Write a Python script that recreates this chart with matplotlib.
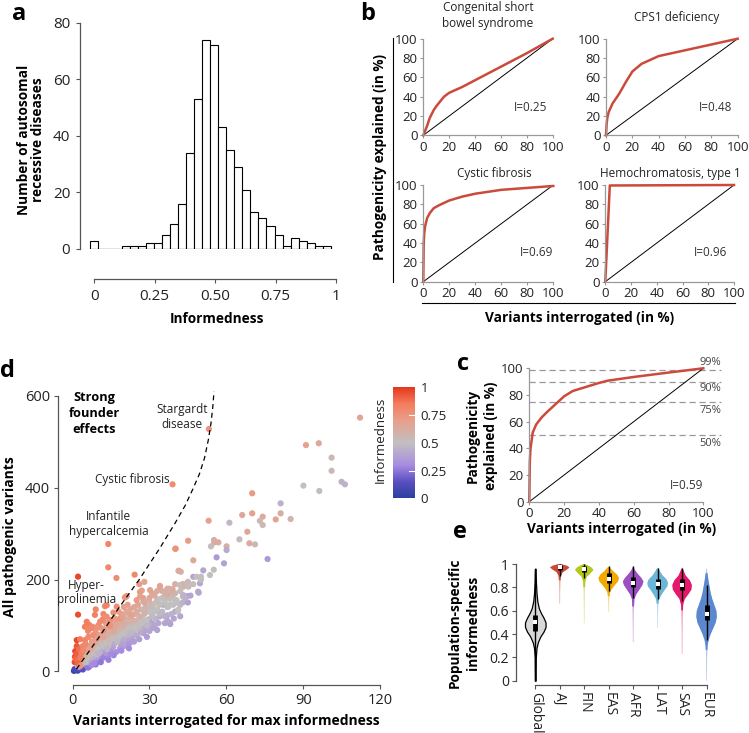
import matplotlib.pyplot as plt
import numpy as np
from matplotlib.colors import LinearSegmentedColormap
from matplotlib.lines import Line2D
import matplotlib as mpl

plt.rcParams['font.family'] = ['Open Sans', 'DejaVu Sans']
plt.rcParams['axes.linewidth'] = 0.9

W, H = 749, 733

# ---- panel a: histogram of informedness
hist_counts = [3, 0, 0, 0, 1, 1, 1, 2, 2, 5, 9, 16, 34, 53, 74,
               72, 43, 35, 29, 21, 13, 11, 8, 5, 1, 4, 3, 2, 1, 1]
hist_edges = np.linspace(-0.018, 0.978, 31)

# ---- panel b: cumulative curves for four diseases
sbs_x = [0, 3, 5, 8, 10, 13, 16, 20, 30, 40, 60, 80, 100]
sbs_y = [0, 10, 18, 26, 30, 35, 40, 44, 50, 57, 71, 85, 100]
cps1_x = [0, 0.5, 1, 2, 5, 10, 15, 20, 27, 40, 60, 80, 100]
cps1_y = [0, 12, 18, 24, 33, 43, 55, 66, 74, 82, 88, 94, 100]
cf_x = [0, 0.3, 0.7, 1.5, 3, 5, 8, 12, 20, 30, 40, 60, 80, 100]
cf_y = [0, 38, 50, 58, 66, 71, 76, 79, 84, 88, 91, 95, 97, 99]
hemo_x = [0, 3.5, 100]
hemo_y = [0, 99.5, 100]
b_titles = ["Congenital short\nbowel syndrome", "CPS1 deficiency",
            "Cystic fibrosis", "Hemochromatosis, type 1"]
b_inform = ["I=0.25", "I=0.48", "I=0.69", "I=0.96"]

# ---- panel c: average curve
avg_x = [0, 0.3, 0.7, 2, 4, 7, 10, 15, 20, 25, 30, 40, 45, 60, 80, 100]
avg_y = [0, 30, 40, 52, 58, 63, 67, 73, 79, 83, 85, 89, 90.7, 93.5, 96.8, 100]
cut_levels = [99, 90, 75, 50]
cut_labels = ["99%", "90%", "75%", "50%"]

# ---- panel d: diseases (variants for max informedness, all variants, informedness)
founder_pts = [(13.9, 277.5, 0.82), (13.9, 226.6, 0.8), (17.1, 203.4, 0.78),
               (24.2, 210.6, 0.8), (2.1, 206.3, 0.97), (2.1, 123.5, 0.95),
               (20.8, 162.7, 0.75), (9, 135, 0.82), (40.2, 267.3, 0.75),
               (39, 407.5, 0.78), (53.2, 528, 0.76)]
upper_pts = [(40.1, 267, 0.75), (45.1, 284.6, 0.72), (47.1, 241.9, 0.65),
             (41.4, 219, 0.63), (45, 150, 0.38), (43, 163, 0.5), (49.2, 171.4, 0.4),
             (49, 173.5, 0.4), (47.1, 206, 0.4), (49.7, 191.8, 0.4), (50.1, 206, 0.5),
             (50.1, 200, 0.5), (51, 220, 0.4), (53.6, 209.8, 0.5), (48.4, 206, 0.5),
             (55.1, 221.4, 0.5), (56.2, 248.4, 0.35), (59.1, 235.3, 0.38),
             (54, 272.4, 0.5), (55.3, 281, 0.63), (56.9, 281, 0.62), (55.2, 286, 0.62),
             (60.1, 272.4, 0.6), (60.1, 264.3, 0.42), (53.1, 328.2, 0.7),
             (61.2, 323.8, 0.47), (66.2, 340.6, 0.65), (70.1, 344.3, 0.7),
             (70.1, 388, 0.72), (68.2, 304.2, 0.65), (65.1, 287.6, 0.52),
             (69, 279, 0.63), (71.2, 276.7, 0.55), (74.2, 337, 0.63), (73.1, 328, 0.55),
             (74.2, 318.8, 0.55), (79.3, 331, 0.68), (81.2, 344.3, 0.63),
             (81.2, 366, 0.45), (85.1, 331.9, 0.57), (76.1, 244.7, 0.35),
             (90.1, 404.6, 0.5), (96.3, 393, 0.52), (91.1, 493, 0.7), (96.1, 497, 0.65),
             (101.1, 465.6, 0.55), (101.1, 437, 0.55), (105, 413, 0.45),
             (106.3, 407.5, 0.45), (112.2, 552.8, 0.67), (45.2, 184.5, 0.55),
             (43.2, 184.5, 0.55), (47.1, 190, 0.52), (44.7, 164, 0.4), (46, 165, 0.4),
             (42.2, 217, 0.62), (43, 190, 0.62), (44.2, 190, 0.6), (45, 195, 0.55),
             (41.9, 188, 0.52), (44.8, 188, 0.52), (43.2, 166, 0.45), (44, 160, 0.45)]
red_pts = [(0.8, 20, 0.95), (0.9, 32, 0.95), (1.0, 44, 0.97), (1.2, 28, 0.9),
           (1.5, 38, 0.92), (1.6, 55, 0.93), (1.6, 68, 0.96), (2.0, 22, 0.88),
           (2.2, 17, 0.9), (2.5, 48, 0.88), (2.9, 70, 0.85), (3.0, 30, 0.85),
           (3.5, 40, 0.83), (4.0, 55, 0.82), (4.1, 46, 0.8), (4.8, 68, 0.82),
           (4.8, 97, 0.83), (5.5, 108, 0.84), (6.1, 75, 0.8), (6.5, 101, 0.83),
           (7.4, 94, 0.8), (7.8, 97, 0.8), (8.0, 79, 0.78), (8.7, 123, 0.83),
           (10.7, 108, 0.8), (11.7, 113, 0.8), (12, 90, 0.75), (12.6, 142, 0.8),
           (13.3, 144, 0.82), (13.3, 119, 0.78), (14.6, 99, 0.76), (14.6, 112, 0.76),
           (15.9, 128, 0.75), (16.5, 115, 0.72), (18.5, 115, 0.73), (17.2, 141, 0.78),
           (19.8, 119, 0.68), (20.4, 161, 0.76), (21.1, 164, 0.75), (23, 123, 0.68),
           (25, 155, 0.72), (26.3, 173, 0.73), (26.3, 163, 0.7), (27, 176, 0.7),
           (26, 190, 0.72), (28, 195, 0.68), (30.2, 177, 0.68), (34.1, 186, 0.67),
           (10, 75, 0.72), (5, 60, 0.8), (3, 12, 0.75), (6, 88, 0.8), (9.5, 95, 0.76)]
blue_pts = [(0.5, 1, 0.05), (1.0, 3, 0.08), (1.3, 2.8, 0.05), (1.5, 5, 0.1),
            (2.0, 1.5, 0.06), (2.5, 4, 0.1), (2.9, 6.5, 0.15), (1.8, 7, 0.12),
            (0.8, 5, 0.1), (3.5, 8, 0.2), (4.8, 10, 0.22), (4, 4, 0.15)]
purple_pts = [(5.5, 13, 0.3), (6.5, 10, 0.35), (7.4, 28, 0.3), (8, 25, 0.35),
              (9, 20, 0.3), (10, 32, 0.3), (11, 28, 0.32), (12, 39, 0.3),
              (13.3, 54, 0.35), (14, 35, 0.3), (15, 45, 0.33), (15.9, 54, 0.38),
              (15.9, 61, 0.38), (17, 42, 0.32), (18.5, 61, 0.4), (18.5, 50, 0.36),
              (20, 55, 0.36), (21.1, 68, 0.38), (22, 60, 0.35), (23, 72, 0.4),
              (24, 65, 0.38), (25, 78, 0.42), (26, 70, 0.37), (27.6, 83, 0.38),
              (28, 95, 0.42), (29, 75, 0.36), (30, 88, 0.4), (32, 100, 0.42),
              (33, 90, 0.38), (35.4, 145, 0.42), (36, 105, 0.4), (38, 105, 0.38),
              (38.1, 103, 0.38), (30, 114, 0.42), (27.6, 152, 0.42), (12, 30, 0.28),
              (9, 15, 0.25), (7, 18, 0.28), (6, 8, 0.25), (11, 20, 0.25), (16, 35, 0.28),
              (14, 25, 0.27), (19, 45, 0.3), (22, 50, 0.3), (34, 120, 0.4),
              (40, 130, 0.4), (37, 122, 0.42), (31, 105, 0.4)]
gray_pts = [(6, 30, 0.5), (7, 35, 0.55), (8, 40, 0.5), (9, 45, 0.55), (9.5, 55, 0.6),
            (10, 50, 0.5), (11, 60, 0.55), (12, 55, 0.5), (12.5, 68, 0.58),
            (13, 62, 0.52), (14, 70, 0.55), (15, 78, 0.58), (16, 72, 0.52),
            (17, 85, 0.58), (18, 75, 0.5), (18.5, 90, 0.55), (19, 95, 0.6),
            (20, 82, 0.5), (20, 100, 0.62), (21, 90, 0.53), (22, 105, 0.6),
            (22, 95, 0.5), (23, 85, 0.47), (24, 110, 0.6), (25, 90, 0.48),
            (25, 100, 0.52), (26, 120, 0.6), (27, 105, 0.5), (28.9, 112, 0.5),
            (27.6, 134, 0.55), (28, 125, 0.58), (29.1, 152, 0.52), (30, 140, 0.55),
            (30.5, 130, 0.5), (31, 120, 0.48), (32, 148, 0.52), (33, 135, 0.5),
            (33.8, 157, 0.5), (34, 125, 0.47), (34.1, 184, 0.55), (35, 160, 0.5),
            (36, 150, 0.5), (37, 140, 0.48), (37.4, 141, 0.5), (38, 158, 0.52),
            (39.3, 145, 0.5), (40, 155, 0.5), (40.6, 155, 0.5), (40.7, 150, 0.5),
            (41, 131, 0.48), (41.2, 134, 0.5), (42, 175, 0.52), (23, 120, 0.62),
            (19, 110, 0.63), (16, 95, 0.62), (14, 85, 0.62), (21, 130, 0.65),
            (36, 170, 0.6), (32, 165, 0.62), (38, 175, 0.6), (10.5, 40, 0.45),
            (13.5, 48, 0.45), (17.5, 65, 0.47), (24, 95, 0.5), (29, 100, 0.47)]
salmon_pts = [(11, 80, 0.68), (13, 95, 0.66), (15, 105, 0.68), (17, 100, 0.65),
              (18, 130, 0.7), (20, 140, 0.7), (22, 125, 0.65), (24, 140, 0.66),
              (25, 130, 0.63), (28, 150, 0.65), (30, 160, 0.66), (31, 170, 0.65),
              (33, 175, 0.63), (37, 180, 0.63), (37.7, 180, 0.62), (37, 168, 0.62),
              (39, 179, 0.62), (40, 190, 0.6), (41.4, 219, 0.63), (37.4, 174, 0.6),
              (6, 45, 0.7), (8, 60, 0.7), (9, 70, 0.7), (3.5, 25, 0.65), (4.5, 30, 0.6),
              (5, 20, 0.5), (3.5, 15, 0.45), (2.5, 10, 0.4), (4, 20, 0.55),
              (7, 50, 0.68), (12, 75, 0.66), (16, 88, 0.65)]
band_pts = [(3.5, 35, 0.7), (4.5, 40, 0.72), (5.5, 50, 0.75), (6.5, 55, 0.72),
            (7.5, 65, 0.72), (5, 35, 0.6), (6, 20, 0.45), (7, 25, 0.4), (8, 30, 0.42),
            (8.5, 50, 0.6), (6.5, 40, 0.55), (4, 28, 0.6), (5.5, 28, 0.5), (3, 20, 0.6),
            (2, 12, 0.55), (7.5, 14, 0.3), (8.5, 18, 0.3), (9.5, 35, 0.45),
            (10, 60, 0.62), (10.5, 65, 0.65), (11, 45, 0.5), (11.5, 52, 0.52),
            (12, 48, 0.42), (12.5, 82, 0.68), (13, 40, 0.35), (13.5, 75, 0.6),
            (14, 58, 0.48), (14.5, 90, 0.65), (15, 65, 0.5), (15, 38, 0.3),
            (13, 105, 0.72), (11, 95, 0.72), (9, 85, 0.74), (10, 100, 0.78),
            (12, 125, 0.8), (16, 80, 0.55), (16.5, 62, 0.42), (17, 110, 0.68),
            (17.5, 92, 0.58), (18, 68, 0.42), (18, 100, 0.6), (19, 80, 0.5),
            (19, 125, 0.68), (19.5, 60, 0.38), (20, 70, 0.42), (20.5, 110, 0.6),
            (21, 78, 0.45), (21.5, 100, 0.55), (21.5, 145, 0.7), (22, 115, 0.6),
            (22.5, 82, 0.45), (22.5, 135, 0.65), (23, 100, 0.52), (23.5, 65, 0.36),
            (24, 80, 0.42), (24.5, 125, 0.6), (25, 110, 0.55), (25.5, 145, 0.66),
            (26, 95, 0.48), (26.5, 85, 0.42), (26.5, 135, 0.6), (27, 115, 0.52),
            (27.5, 160, 0.68), (28, 105, 0.48), (28.5, 140, 0.6), (29, 90, 0.4),
            (29.5, 130, 0.55), (30, 150, 0.6), (30, 100, 0.42), (31, 140, 0.55),
            (31.5, 95, 0.38), (32, 130, 0.5), (32.5, 115, 0.45), (33, 155, 0.58),
            (33.5, 105, 0.4), (34, 145, 0.52), (35, 130, 0.48), (35, 175, 0.62),
            (36, 120, 0.44), (36.5, 160, 0.55), (37, 110, 0.4), (38, 145, 0.5),
            (38.5, 125, 0.45), (39, 165, 0.55), (39.5, 115, 0.4), (40, 170, 0.58),
            (42, 145, 0.48), (43, 150, 0.45), (42, 120, 0.4)]

# dashed boundary of strong founder effects
founder_x = [1.5, 10, 18, 26, 34, 40, 44, 47, 49.5, 51.5, 53, 54, 54.7, 55.2]
founder_y = [5, 72, 138, 200, 268, 323, 362, 398, 430, 465, 505, 540, 575, 610]

# ---- panel e: population-specific informedness (violin profiles)
pops = ["Global", "AJ", "FIN", "EAS", "AFR", "LAT", "SAS", "EUR"]
pop_colors = ["#d9d9d9", "#c94a3c", "#b4c81e", "#f2aa00",
              "#9b4fc2", "#6bb5d9", "#e5196b", "#5b87cf"]
prof_y = [
    [0, 0.2, 0.28, 0.33, 0.38, 0.42, 0.46, 0.5, 0.54, 0.58, 0.62, 0.68, 0.75, 0.85, 0.96],
    [0.66, 0.75, 0.85, 0.9, 0.93, 0.95, 0.97, 0.985, 1.0],
    [0.49, 0.6, 0.75, 0.85, 0.89, 0.92, 0.95, 0.97, 0.99, 1.0],
    [0.59, 0.68, 0.75, 0.78, 0.82, 0.85, 0.88, 0.91, 0.94, 0.97, 0.98],
    [0.33, 0.45, 0.6, 0.7, 0.74, 0.78, 0.82, 0.85, 0.88, 0.92, 0.95, 0.98],
    [0.45, 0.55, 0.65, 0.7, 0.74, 0.78, 0.81, 0.84, 0.87, 0.9, 0.94, 0.97],
    [0.23, 0.4, 0.55, 0.65, 0.7, 0.74, 0.78, 0.82, 0.86, 0.9, 0.94, 0.97],
    [0.0, 0.2, 0.3, 0.35, 0.4, 0.45, 0.5, 0.55, 0.6, 0.65, 0.7, 0.75, 0.8, 0.85, 0.9, 0.96],
]
prof_w = [
    [0.03, 0.05, 0.12, 0.25, 0.5, 0.8, 1.0, 1.0, 0.8, 0.55, 0.35, 0.2, 0.12, 0.06, 0.03],
    [0.03, 0.04, 0.07, 0.12, 0.3, 0.65, 0.95, 0.7, 0.1],
    [0.03, 0.04, 0.06, 0.1, 0.25, 0.6, 0.9, 0.7, 0.3, 0.05],
    [0.03, 0.05, 0.1, 0.25, 0.6, 0.9, 1.0, 0.8, 0.4, 0.1, 0.03],
    [0.03, 0.04, 0.06, 0.12, 0.3, 0.6, 0.9, 1.0, 0.8, 0.4, 0.15, 0.03],
    [0.03, 0.04, 0.07, 0.15, 0.4, 0.7, 0.95, 1.0, 0.85, 0.5, 0.2, 0.03],
    [0.03, 0.04, 0.06, 0.1, 0.25, 0.6, 0.9, 0.95, 0.75, 0.35, 0.15, 0.03],
    [0.03, 0.05, 0.1, 0.2, 0.4, 0.65, 0.9, 1.0, 0.95, 0.75, 0.55, 0.4, 0.3, 0.2, 0.12, 0.03],
]
box_lo = [0.43, 0.95, 0.93, 0.84, 0.80, 0.79, 0.78, 0.52]
box_hi = [0.56, 0.99, 0.985, 0.92, 0.89, 0.87, 0.87, 0.65]
box_med = [0.50, 0.975, 0.955, 0.875, 0.84, 0.83, 0.82, 0.575]
whisk_lo = [0.0, 0.9, 0.88, 0.77, 0.71, 0.7, 0.68, 0.35]
whisk_hi = [0.96, 1.0, 1.0, 0.98, 0.98, 0.97, 0.97, 0.82]

# ------------------------------------------------------------------
fig = plt.figure(figsize=(W / 100, H / 100), dpi=100)


def box(l, t, r, b):
    return [l / W, 1 - b / H, (r - l) / W, (b - t) / H]


def ftext(x, y, s, **kw):
    kw.setdefault('ha', 'center')
    kw.setdefault('va', 'center')
    fig.text(x / W, 1 - y / H, s, **kw)


def fline(xs, ys, **kw):
    fig.add_artist(Line2D([x / W for x in xs], [1 - y / H for y in ys], **kw))


spine_c = '#555555'
red = '#cb4a3b'

# panel a
ax = fig.add_axes(box(80, 22.7, 336, 249))
ax.bar(hist_edges[:-1], hist_counts, width=np.diff(hist_edges), align='edge',
       color='white', edgecolor='black', linewidth=0.8)
ax.plot([hist_edges[0], hist_edges[-1]], [0, 0], color='black', lw=0.8)
ax.set_xlim(-0.059, 1.0)
ax.set_ylim(0, 80)
for s in ['top', 'right']:
    ax.spines[s].set_visible(False)
ax.spines['bottom'].set_position(('outward', 21.6))
ax.spines['bottom'].set_bounds(0, 1)
ax.spines['left'].set_bounds(0, 80)
for s in ['bottom', 'left']:
    ax.spines[s].set_color(spine_c)
ax.set_xticks([0, 0.25, 0.5, 0.75, 1], ['0', '0.25', '0.50', '0.75', '1'])
ax.set_yticks([0, 20, 40, 60, 80])
ax.tick_params(labelsize=11, length=3, color=spine_c, labelcolor='#222222', pad=4)
ftext(217, 319, "Informedness", fontsize=9.8, fontweight='bold')
ftext(31, 140, "Number of autosomal\nrecessive diseases", fontsize=9.8,
      fontweight='bold', rotation=90, linespacing=1.0)

# panel b
b_boxes = [(423.3, 38.7, 552.7, 135.3), (606, 38.7, 737.7, 135.3),
           (423.3, 185, 553.3, 281.7), (605.3, 185, 734, 281.7)]
b_curves = [(sbs_x, sbs_y), (cps1_x, cps1_y), (cf_x, cf_y), (hemo_x, hemo_y)]
title_pos = [(488, 15.5), (677, 17), (494, 173), (670, 173)]
inf_pos = [(96, 29), (96, 29), (100, 30), (95, 30)]
for i in range(4):
    bx = fig.add_axes(box(*b_boxes[i]))
    bx.plot([0, 100], [0, 100], color='black', lw=0.7)
    bx.plot(b_curves[i][0], b_curves[i][1], color=red, lw=1.8, clip_on=False,
            solid_joinstyle='round')
    bx.set_xlim(0, 100)
    bx.set_ylim(0, 100)
    for s in ['top', 'right']:
        bx.spines[s].set_visible(False)
    for s in ['bottom', 'left']:
        bx.spines[s].set_color('#999999')
    bx.set_xticks(range(0, 101, 20))
    bx.set_yticks(range(0, 101, 20))
    bx.tick_params(labelsize=9.5, length=2.5, color='#999999', labelcolor='#222222', pad=1.5)
    bx.text(inf_pos[i][0], inf_pos[i][1], b_inform[i], ha='right', va='center',
            fontsize=8.5, color='#333333')
    ftext(title_pos[i][0], title_pos[i][1], b_titles[i], fontsize=8.5, linespacing=1.25,
          color='#222222')
ftext(380, 157, "Pathogenicity explained (in %)", fontsize=9.8, fontweight='bold',
      rotation=90)
ftext(580, 318, "Variants interrogated (in %)", fontsize=9.8, fontweight='bold')
fline([392.7, 392.7], [38, 282], color='black', lw=0.8)
fline([422, 735], [303, 303], color='black', lw=0.8)

# panel c
cx = fig.add_axes(box(529.3, 368.3, 703.3, 501.7))
for lev in cut_levels:
    cx.plot([0, 110], [lev, lev], color='#999999', lw=0.9, ls=(0, (5, 3)), clip_on=False)
lab_y = [104.7, 85.2, 68.7, 44]
for lab, ly in zip(cut_labels, lab_y):
    cx.text(110.5, ly, lab, ha='right', va='center', fontsize=8, color='#444444')
cx.plot([0, 100], [0, 100], color='black', lw=0.7)
cx.plot(avg_x, avg_y, color=red, lw=1.8, clip_on=False)
cx.set_xlim(0, 100)
cx.set_ylim(0, 100)
for s in ['top', 'right']:
    cx.spines[s].set_visible(False)
for s in ['bottom', 'left']:
    cx.spines[s].set_color('#999999')
cx.set_xticks(range(0, 101, 20))
cx.set_yticks(range(0, 101, 20))
cx.tick_params(labelsize=9.5, length=2.5, color='#999999', labelcolor='#222222', pad=1.5)
cx.text(100, 12, "I=0.59", ha='right', va='center', fontsize=8.5, color='#333333')
ftext(482, 436, "Pathogenicity\nexplained (in %)", fontsize=9.8, fontweight='bold',
      rotation=90, linespacing=1.45)
ftext(621.7, 529.3, "Variants interrogated (in %)", fontsize=9.8, fontweight='bold')

# panel d
cmap = LinearSegmentedColormap.from_list(
    'inf', [(0, '#2a3f9d'), (0.15, '#5a4fc2'), (0.3, '#a88ce0'), (0.5, '#c2bfc0'),
            (0.7, '#e6a08c'), (0.85, '#f47d5d'), (1, '#e5381f')])
dx = fig.add_axes(box(58.3, 386.8, 380, 685.1))
groups = [blue_pts, purple_pts, band_pts, gray_pts, salmon_pts, red_pts, upper_pts,
          founder_pts]
for g in groups:
    gx = [p[0] for p in g]
    gy = [p[1] for p in g]
    gc = [p[2] for p in g]
    dx.scatter(gx, gy, c=gc, cmap=cmap, vmin=0, vmax=1, s=20, linewidths=0,
               clip_on=False, zorder=2)
dx.plot(founder_x, founder_y, color='black', lw=0.9, ls=(0, (4, 3)), zorder=3)
dx.set_xlim(-5.6, 120)
dx.set_ylim(-30, 620)
for s in ['top', 'right']:
    dx.spines[s].set_visible(False)
dx.spines['left'].set_bounds(0, 600)
dx.spines['bottom'].set_bounds(0, 120)
for s in ['bottom', 'left']:
    dx.spines[s].set_color(spine_c)
dx.set_xticks([0, 30, 60, 90, 120])
dx.set_yticks([0, 200, 400, 600])
dx.tick_params(labelsize=10.5, length=3, color=spine_c, labelcolor='#222222', pad=3)
dx.text(8.3, 562, "Strong\nfounder\neffects", ha='center', va='center', fontsize=9.2,
        fontweight='bold', linespacing=1.3)
dx.text(42.6, 554, "Stargardt\ndisease", ha='center', va='center', fontsize=8.5,
        linespacing=1.2, color='#222222')
dx.text(23.2, 419, "Cystic fibrosis", ha='center', va='center', fontsize=8.5,
        color='#222222')
dx.text(14.1, 320, "Infantile\nhypercalcemia", ha='center', va='center', fontsize=8.5,
        linespacing=1.2, color='#222222')
dx.text(5.5, 172.8, "Hyper-\nprolinemia", ha='center', va='center', fontsize=8.5,
        linespacing=1.1, color='#222222')
ftext(226.7, 720.7, "Variants interrogated for max informedness", fontsize=10,
      fontweight='bold')
ftext(10, 536.7, "All pathogenic variants", fontsize=10, fontweight='bold', rotation=90)

# colorbar
cax = fig.add_axes(box(392.7, 387.3, 415, 498.3))
cb = fig.colorbar(mpl.cm.ScalarMappable(norm=mpl.colors.Normalize(0, 1), cmap=cmap),
                  cax=cax)
cb.outline.set_visible(False)
cb.set_ticks([0, 0.25, 0.5, 0.75, 1], labels=['0', '0.25', '0.5', '0.75', '1'])
cax.tick_params(length=0, labelsize=9.5, pad=4, labelcolor='#222222')
for v in [0.25, 0.75]:
    cax.plot([0.75, 1.0], [v, v], color='white', lw=0.8, transform=cax.get_yaxis_transform())
ftext(380, 440, "Informedness", fontsize=9.5, rotation=90, color='#222222')

# panel e
ex = fig.add_axes(box(515.7, 560.5, 724.7, 685))
half = 0.42
for i in range(len(pops)):
    yy = np.linspace(prof_y[i][0], prof_y[i][-1], 150)
    ww = np.interp(yy, prof_y[i], prof_w[i]) * half
    if i == 0:
        ex.fill_betweenx(yy, i - ww, i + ww, facecolor=pop_colors[i], edgecolor='black',
                         linewidth=0.9, zorder=2)
    else:
        body = ww >= 0.08 * half
        ex.fill_betweenx(yy, i - ww, i + ww, facecolor=pop_colors[i], linewidth=0,
                         alpha=0.45, zorder=2)
        ex.fill_betweenx(yy, i - ww, i + ww, where=body, facecolor=pop_colors[i],
                         linewidth=0, zorder=2)
    ex.vlines(i, whisk_lo[i], whisk_hi[i], color='black', lw=1.0, zorder=3)
    ex.vlines(i, box_lo[i], box_hi[i], color='black', lw=3.5, zorder=3)
    ex.scatter([i], [box_med[i]], marker='s', s=7, color='white', zorder=4, linewidths=0)
ex.set_xlim(-0.8, 7.74)
ex.set_ylim(-0.037, 1.03)
for s in ['top', 'right']:
    ex.spines[s].set_visible(False)
ex.spines['left'].set_bounds(0, 1)
ex.spines['bottom'].set_bounds(0, 7)
for s in ['bottom', 'left']:
    ex.spines[s].set_color(spine_c)
ex.set_yticks([0, 0.2, 0.4, 0.6, 0.8, 1], ['0', '0.2', '0.4', '0.6', '0.8', '1'])
ex.set_xticks(range(len(pops)), pops, rotation=-90)
ex.tick_params(labelsize=10, length=3, color=spine_c, labelcolor='#222222', pad=2)
ftext(464, 623, "Population-specific\ninformedness", fontsize=9.8, fontweight='bold',
      rotation=90, linespacing=1.35)

# panel letters
for lx, ly, lab in [(19, 20, 'a'), (368, 20, 'b'), (7, 377, 'd'), (463, 370, 'c'),
                    (460, 538, 'e')]:
    ftext(lx, ly, lab, fontsize=17, fontweight='bold', va='baseline')

fig.savefig('out.png', dpi=100)
